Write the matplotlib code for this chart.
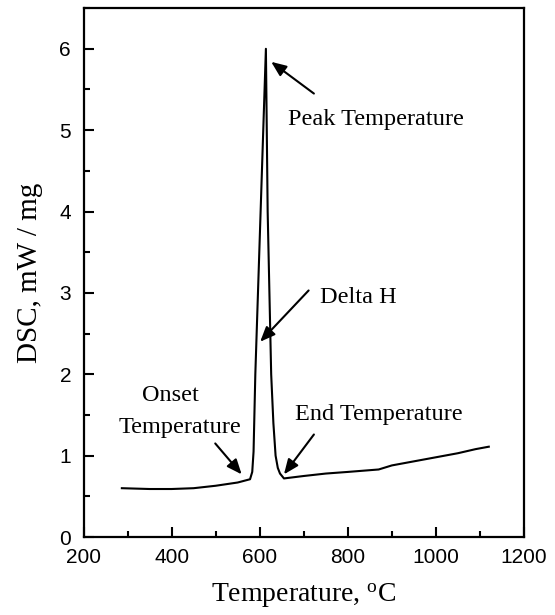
import matplotlib
matplotlib.use("Agg")
import matplotlib.pyplot as plt
from matplotlib.ticker import MultipleLocator

# DSC curve
temperature = [287, 350, 400, 450, 500, 550, 578, 583, 586, 590, 596, 602, 608, 614,
               618, 622, 626, 631, 636, 641, 646, 655, 700, 750, 800, 870, 900, 950,
               1000, 1050, 1090, 1120]
dsc = [0.60, 0.59, 0.59, 0.60, 0.63, 0.67, 0.71, 0.80, 1.05, 2.0, 3.0, 4.0, 5.0, 6.0,
       4.0, 3.0, 2.0, 1.4, 1.0, 0.85, 0.78, 0.72, 0.75, 0.78, 0.80, 0.83, 0.88, 0.93,
       0.98, 1.03, 1.08, 1.11]

xticks = [200, 400, 600, 800, 1000, 1200]
yticks = [0, 1, 2, 3, 4, 5, 6]

serif = "Liberation Serif"
sans = "Liberation Sans"

# degree sign in the x label drawn with the serif font too
plt.rcParams["mathtext.fontset"] = "custom"
plt.rcParams["mathtext.rm"] = serif
plt.rcParams["mathtext.it"] = serif + ":italic"

fig = plt.figure(figsize=(5.55, 6.15), dpi=100)
ax = fig.add_axes([0.1505, 0.1268, 0.7937, 0.860])

ax.plot(temperature, dsc, color="black", lw=1.5)

ax.set_xlim(200, 1200)
ax.set_ylim(0, 6.5)
ax.set_xticks(xticks)
ax.set_yticks(yticks)
ax.xaxis.set_minor_locator(MultipleLocator(100))
ax.yaxis.set_minor_locator(MultipleLocator(0.5))
ax.tick_params(which="both", direction="in", top=False, right=False, width=1.5)
ax.tick_params(which="major", length=7.5, labelsize=15)
ax.tick_params(axis="x", which="major", pad=8)
ax.tick_params(axis="y", which="major", pad=9)
ax.tick_params(which="minor", length=4)
for lab in ax.get_xticklabels() + ax.get_yticklabels():
    lab.set_fontfamily(sans)
for s in ax.spines.values():
    s.set_linewidth(1.6)

ax.set_xlabel(r"Temperature, $^{\mathrm{o}}$C", fontsize=20, family=serif)
ax.set_ylabel("DSC, mW / mg", fontsize=21, family=serif)
ax.xaxis.set_label_coords(0.5, -0.085)
ax.yaxis.set_label_coords(-0.121, 0.5)
ax.yaxis.label.set_va("center")

arrow = dict(arrowstyle="-|>,head_length=0.6,head_width=0.25", color="black",
             lw=1.5, mutation_scale=15, shrinkA=0, shrinkB=0)
ax.annotate("", xy=(626, 5.84), xytext=(723, 5.45), arrowprops=arrow)
ax.text(665, 5.13, "Peak Temperature", fontsize=17.5, family=serif, va="center")
ax.annotate("", xy=(601, 2.40), xytext=(711, 3.03), arrowprops=arrow)
ax.text(737, 2.94, "Delta H", fontsize=17.5, family=serif, va="center")
ax.annotate("", xy=(559, 0.77), xytext=(499, 1.15), arrowprops=arrow)
ax.text(397, 1.74, "Onset", fontsize=17.5, family=serif, va="center", ha="center")
ax.text(419, 1.34, "Temperature", fontsize=17.5, family=serif, va="center", ha="center")
ax.annotate("", xy=(655, 0.77), xytext=(723, 1.26), arrowprops=arrow)
ax.text(680, 1.50, "End Temperature", fontsize=17.5, family=serif, va="center")

fig.savefig("out.png", dpi=100)
